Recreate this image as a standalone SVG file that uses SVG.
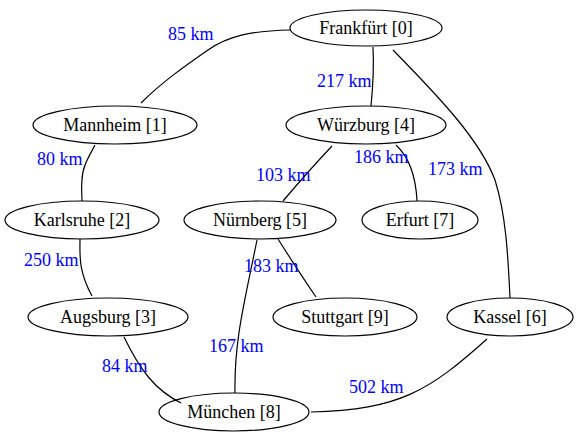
<svg xmlns="http://www.w3.org/2000/svg" width="579" height="443" viewBox="0 0 579 443">
<style>
.n ellipse{fill:none;stroke:#000;stroke-width:1.2}
.n text{font-family:"Liberation Serif",serif;font-size:18px;fill:#000;text-anchor:middle}
.e path{fill:none;stroke:#000;stroke-width:1.2}
.l text{font-family:"Liberation Serif",serif;font-size:18px;fill:#0000ff}
</style>
<rect width="579" height="443" fill="#fff"/>
<g id="connectors" class="e">
<path d="M290,30 C250,31 228,36 208,50 C185,66 162,82 141,103"/>
<path d="M373,47 C374,66 373,86 371,106"/>
<path d="M393,50 C440,98 480,140 495,180 C506,215 508,255 510,298"/>
<path d="M95,145 C88,158 82,168 82,180 C81,190 82,195 82,201"/>
<path d="M332,146 C315,164 300,181 283,201"/>
<path d="M396,145 C410,158 416,180 417,201"/>
<path d="M80,239 C80,255 78,270 92,296"/>
<path d="M278,239 C290,258 303,278 316,297"/>
<path d="M257,240 C245,300 234,340 235,393"/>
<path d="M124,337 C140,370 155,390 181,403"/>
<path d="M487,339 C430,390 400,410 311,412"/>
</g>
<g id="labels" class="l">
<text x="168" y="40">85 km</text>
<text x="317" y="87">217 km</text>
<text x="428" y="175">173 km</text>
<text x="37" y="165">80 km</text>
<text x="256" y="181">103 km</text>
<text x="354" y="163">186 km</text>
<text x="24" y="266">250 km</text>
<text x="244" y="272">183 km</text>
<text x="209" y="352">167 km</text>
<text x="102" y="372">84 km</text>
<text x="349" y="393">502 km</text>
</g>
<g id="n0" class="n"><ellipse cx="366" cy="28" rx="76" ry="18"/><text x="366" y="34">Frankfürt [0]</text></g>
<g id="n1" class="n"><ellipse cx="115" cy="125" rx="82" ry="19"/><text x="115" y="131">Mannheim [1]</text></g>
<g id="n4" class="n"><ellipse cx="366" cy="125" rx="80" ry="19"/><text x="366" y="131">Würzburg [4]</text></g>
<g id="n2" class="n"><ellipse cx="82" cy="220" rx="77" ry="19"/><text x="82" y="226">Karlsruhe [2]</text></g>
<g id="n5" class="n"><ellipse cx="260" cy="220" rx="76" ry="19"/><text x="260" y="226">Nürnberg [5]</text></g>
<g id="n7" class="n"><ellipse cx="420" cy="220" rx="58" ry="19"/><text x="420" y="226">Erfurt [7]</text></g>
<g id="n3" class="n"><ellipse cx="108" cy="317" rx="80" ry="19"/><text x="108" y="323">Augsburg [3]</text></g>
<g id="n9" class="n"><ellipse cx="345" cy="317" rx="72" ry="19"/><text x="345" y="323">Stuttgart [9]</text></g>
<g id="n6" class="n"><ellipse cx="510" cy="317" rx="63" ry="19"/><text x="510" y="323">Kassel [6]</text></g>
<g id="n8" class="n"><ellipse cx="234" cy="412" rx="75" ry="19"/><text x="234" y="418">München [8]</text></g>
</svg>
